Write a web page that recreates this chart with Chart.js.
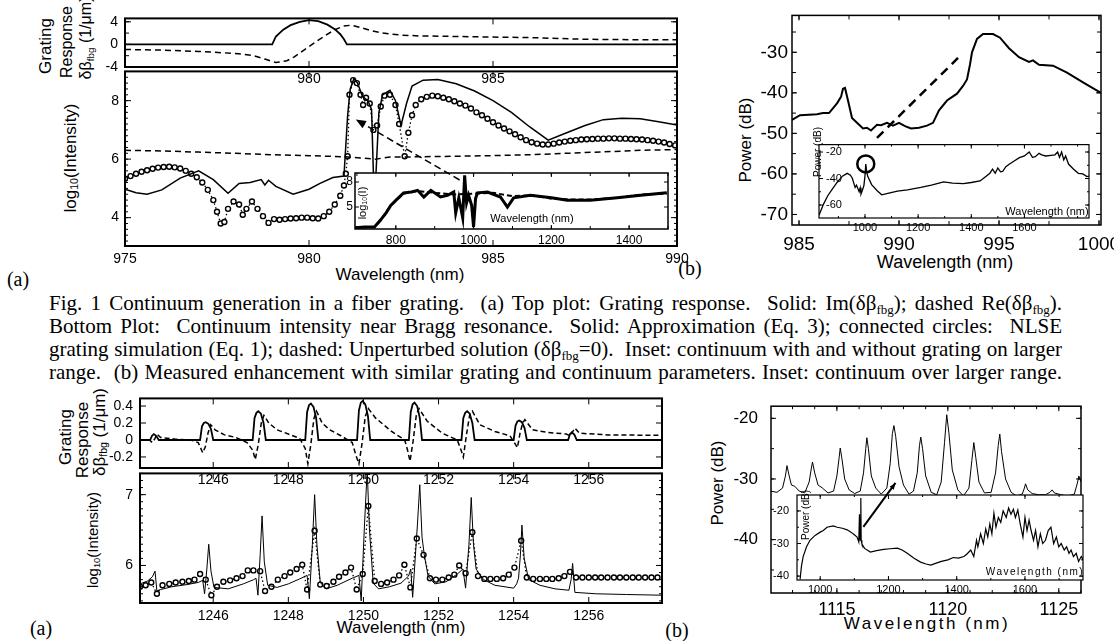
<!DOCTYPE html>
<html>
<head>
<meta charset="utf-8">
<script src="https://cdn.jsdelivr.net/npm/chart.js@4.4.1/dist/chart.umd.min.js"></script>
<style>
  body { margin: 0; background: #fff; }
  #page { position: relative; width: 1114px; height: 641px; overflow: hidden; background: #fff;
          font-family: 'Liberation Sans', Arial, sans-serif; color: #000; }
  canvas { position: absolute; }
  .t { position: absolute; white-space: nowrap; line-height: 1; transform: translate(-50%, -50%); }
  .r { transform: translate(-50%, -50%) rotate(-90deg); }
  .serif { font-family: 'Liberation Serif', 'Times New Roman', serif; }
  .cap { position: absolute; left: 49px; white-space: pre; line-height: 1; font-size: 21px;
         font-family: 'Liberation Serif', 'Times New Roman', serif; transform-origin: 0 0; }
  sub { font-size: 0.62em; vertical-align: -0.28em; line-height: 0; }
</style>
</head>
<body>
<div id="page">
  <!-- top-left axis titles -->
  <div class="t r" style="left:45px;top:46px;font-size:17px">Grating</div>
  <div class="t r" style="left:67px;top:42px;font-size:16px">Response</div>
  <div class="t r" style="left:86px;top:38px;font-size:16px">δβ<sub>fbg</sub> (1/μm)</div>
  <div class="t r" style="left:70px;top:158px;font-size:17px">log<sub>10</sub>(Intensity)</div>
  <div class="t" style="left:400px;top:274px;font-size:17px">Wavelength (nm)</div>
  <div class="t serif" style="left:18px;top:279px;font-size:20px">(a)</div>

  <!-- top-right axis titles -->
  <div class="t r" style="left:745px;top:140px;font-size:17px">Power (dB)</div>
  <div class="t" style="left:945px;top:262px;font-size:18px">Wavelength (nm)</div>
  <div class="t serif" style="left:690px;top:268px;font-size:20px">(b)</div>

  <!-- caption -->
  <div class="cap" style="top:293px">Fig. 1 Continuum generation in a fiber grating.  (a) Top plot: Grating response.  Solid: Im(δβ<sub>fbg</sub>); dashed Re(δβ<sub>fbg</sub>).</div>
  <div class="cap" style="top:316px">Bottom Plot:  Continuum intensity near Bragg resonance.  Solid: Approximation (Eq. 3); connected circles:  NLSE</div>
  <div class="cap" style="top:339px">grating simulation (Eq. 1); dashed: Unperturbed solution (δβ<sub>fbg</sub>=0).  Inset: continuum with and without grating on larger</div>
  <div class="cap" style="top:362px">range.  (b) Measured enhancement with similar grating and continuum parameters. Inset: continuum over larger range.</div>

  <!-- bottom-left axis titles -->
  <div class="t r" style="left:65px;top:437px;font-size:17px">Grating</div>
  <div class="t r" style="left:82px;top:440px;font-size:17px">Response</div>
  <div class="t r" style="left:99px;top:432px;font-size:17px">δβ<sub>fbg</sub> (1/μm)</div>
  <div class="t r" style="left:92px;top:540px;font-size:15px">log<sub>10</sub>(Intensity)</div>
  <div class="t" style="left:401px;top:627px;font-size:17px">Wavelength (nm)</div>
  <div class="t serif" style="left:41px;top:628px;font-size:20px">(a)</div>
  <div class="t serif" style="left:677px;top:630px;font-size:20px">(b)</div>

  <!-- bottom-right axis titles -->
  <div class="t r" style="left:717px;top:483px;font-size:17px">Power (dB)</div>
  <div class="t" style="left:927px;top:623px;font-size:17px;letter-spacing:2.5px">Wavelength (nm)</div>
</div>

<script>
// ---- top-left (a): grating response and intensity near 980 nm ----
const tlImPts = [[975,0],[979.0,0],[979.1,1.4],[979.3,2.6],[979.5,3.4],[979.75,4.0],[980.0,4.3],[980.25,4.1],
  [980.5,3.5],[980.7,2.7],[980.85,1.8],[980.95,0.9],[981.03,0],[990,0]];
const tlRePts = [[975,-0.9],[976,-1.0],[977,-1.25],[978,-1.6],[978.5,-2.0],[978.8,-2.6],[979.1,-3.2],[979.4,-2.9],
  [979.6,-2.2],[979.95,-0.6],[980.2,0.5],[980.45,1.6],[980.7,2.6],[980.95,3.25],[981.15,3.4],[981.4,3.0],
  [981.7,2.4],[982.0,2.0],[982.5,1.65],[983,1.5],[984,1.4],[985,1.3],[986,1.2],[986.8,1.05],[987.5,0.9],
  [988.5,0.85],[990,0.8]];
const tlApproxPts = [[975,4.97],[975.3,4.85],[975.6,4.8],[976.0,4.95],[976.5,5.35],[977.0,5.6],[977.4,5.3],
  [977.8,4.83],[978.1,5.17],[978.4,5.2],[978.7,5.3],[978.8,5.12],[978.9,5.28],[979.1,5.07],[979.57,4.8],
  [980.0,4.97],[980.3,5.17],[980.65,5.37],[980.95,5.42],[981.05,7.5],[981.12,8.4],[981.22,8.75],[981.32,8.6],
  [981.45,8.15],[981.6,8.0],[981.7,7.7],[981.75,5.5],[981.78,4.0],[981.82,5.5],[981.9,7.6],[982.0,8.2],
  [982.2,8.35],[982.35,8.0],[982.5,7.15],[982.65,7.9],[982.8,8.5],[983.1,8.7],[983.5,8.72],[984.0,8.58],
  [984.5,8.33],[985.0,8.0],[985.5,7.6],[986.0,7.1],[986.5,6.65],[986.9,6.85],[987.5,7.15],[988.0,7.35],
  [988.5,7.4],[989.0,7.38],[989.5,7.28],[990,7.17]];
const tlNlsePts = [[975.0,5.33],[975.15,5.42],[975.3,5.5],[975.45,5.57],[975.6,5.62],[975.75,5.67],[975.9,5.71],
  [976.05,5.73],[976.2,5.74],[976.35,5.72],[976.5,5.68],[976.65,5.6],[976.8,5.5],[976.95,5.38],[977.1,5.2],
  [977.25,4.95],[977.4,4.6],[977.5,4.2],[977.6,3.8],[977.7,3.85],[977.8,4.3],[977.95,4.55],[978.1,4.45],
  [978.2,4.1],[978.3,4.3],[978.45,4.55],[978.6,4.3],[978.75,4.05],[978.9,3.82],[979.05,3.95],[979.2,3.93],
  [979.35,3.95],[979.5,3.97],[979.65,3.98],[979.8,4.0],[979.95,4.0],[980.1,3.98],[980.25,3.97],[980.4,4.05],
  [980.55,4.2],[980.7,4.45],[980.85,4.75],[980.95,5.1],[981.0,5.5],[981.05,6.1],[981.1,8.2],[981.2,8.7],
  [981.3,8.6],[981.4,8.2],[981.47,7.85],[981.55,8.1],[981.65,7.9],[981.75,7.0],[981.85,7.15],[981.95,7.8],
  [982.05,8.17],[982.2,8.2],[982.35,7.85],[982.45,7.2],[982.6,6.1],[982.7,6.9],[982.8,7.5],[982.9,7.85],
  [983.05,8.05],[983.2,8.13],[983.35,8.17],[983.5,8.15],[983.65,8.1],[983.8,8.05],[983.95,7.98],[984.1,7.9],
  [984.25,7.83],[984.4,7.73],[984.55,7.6],[984.7,7.5],[984.85,7.38],[985.0,7.26],[985.15,7.15],[985.3,7.05],
  [985.45,6.95],[985.6,6.85],[985.75,6.75],[985.9,6.65],[986.05,6.58],[986.2,6.53],[986.35,6.5],[986.5,6.5],
  [986.65,6.53],[986.8,6.57],[986.95,6.6],[987.1,6.63],[987.25,6.65],[987.4,6.67],[987.55,6.68],[987.7,6.69],
  [987.85,6.7],[988.0,6.7],[988.15,6.71],[988.3,6.71],[988.45,6.7],[988.6,6.7],[988.75,6.69],[988.9,6.68],
  [989.05,6.67],[989.2,6.65],[989.35,6.63],[989.5,6.6],[989.65,6.57],[989.8,6.52],[989.95,6.47]];
const tlFreePts = [[975,6.3],[976,6.28],[977,6.24],[978,6.2],[979,6.15],[980,6.12],[981,6.08],[981.5,6.03],
  [981.8,6.0],[982.2,6.07],[983,6.08],[984,6.1],[985,6.12],[986,6.15],[987,6.2],[988,6.25],[989,6.3],[990,6.33]];
const tlInsetPts = [[695,2.5],[720,2.6],[745,2.6],[760,3.4],[775,4.3],[787,5.2],[800,5.8],[820,6.7],[840,6.8],
  [856,7.0],[872,6.2],[890,7.0],[915,6.2],[933,6.4],[949,6.8],[954,4.3],[962,6.1],[972,3.7],[977,8.8],[982,5.5],
  [987,6.4],[995,5.2],[1000,2.6],[1005,6.0],[1010,6.7],[1036,6.8],[1069,6.2],[1087,5.0],[1103,6.1],[1146,6.4],
  [1200,6.1],[1241,5.8],[1300,5.8],[1369,6.1],[1430,6.4],[1497,6.7]];
const tlInsetDashPts = [[695,2.5],[745,2.6],[760,3.3],[787,5.2],[820,6.6],[856,6.9],[900,6.7],[950,6.5],
  [1000,6.6],[1050,6.7],[1100,6.3],[1150,6.4],[1200,6.0],[1250,5.9],[1300,5.9],[1369,6.1],[1430,6.5],[1497,6.6]];
const tlArrowPts = [[964,8.24],[697,15.5]];   // in inset units, points back to the main plot

const tlXTicks = [975, 980, 985, 990];
const tlUpperXLabels = [980, 985];
const tlUpperYTicks = [-4, 0, 4];
const tlLowerYTicks = [4, 6, 8];
const tlInsetXTicks = [800, 1000, 1200, 1400];
const tlInsetYTicks = [5, 8];

// ---- top-right (b): measured spectrum ----
const trPts = [[984.65,-46.7],[985.05,-45.5],[985.5,-45.4],[985.9,-45.3],[986.2,-45.0],[986.5,-45.0],[986.9,-42.6],
  [987.1,-41.0],[987.2,-39.0],[987.3,-38.8],[987.45,-41.9],[987.65,-46.2],[987.9,-47.4],[988.2,-48.8],[988.4,-48.6],
  [988.6,-49.3],[988.9,-47.9],[989.1,-48.0],[989.4,-47.4],[989.7,-48.1],[990.0,-47.4],[990.3,-48.2],[990.6,-48.8],
  [991.0,-48.6],[991.4,-48.1],[991.7,-47.4],[992.0,-44.3],[992.4,-41.9],[992.9,-40.2],[993.2,-38.3],[993.4,-36.7],
  [993.55,-33.0],[993.65,-30.0],[993.9,-26.7],[994.2,-25.5],[994.7,-25.5],[995.05,-26.4],[995.5,-29.0],
  [996.0,-31.2],[996.5,-32.4],[996.7,-32.0],[997.0,-33.1],[997.7,-33.3],[998.4,-35.0],[999.2,-37.4],[1000.1,-40.0]];
const trArrowPts = [[988.9,-51.1],[992.95,-31.4]];
const trInsetPts = [[827,-67.7],[844,-59.3],[860,-53],[877,-48],[895,-43],[915,-38.2],[933,-36.1],[945,-37.5],
  [952,-39.6],[963,-46.7],[968,-45],[974,-48],[978,-50],[982,-47],[985,-51.6],[990,-49],[996,-45.3],[1000,-38],
  [1003,-29.1],[1006,-34],[1010,-38.2],[1025,-44.6],[1045,-49],[1063,-52.3],[1090,-51],[1122,-49.5],[1160,-48.5],
  [1210,-46.7],[1250,-45],[1296,-42.5],[1330,-43.5],[1370,-43.9],[1400,-43],[1433,-41.8],[1445,-40],[1456,-38.2],
  [1470,-36],[1480,-33],[1490,-36],[1500,-32],[1510,-35],[1518,-34.7],[1530,-31],[1544,-29.1],[1560,-27],
  [1581,-24.2],[1600,-23],[1618,-20],[1630,-24],[1641,-23.5],[1655,-21],[1665,-22.1],[1680,-23],[1700,-22.5],
  [1715,-22.1],[1725,-20],[1732,-24],[1740,-20],[1748,-26],[1755,-23],[1766,-29.1],[1785,-33],[1803,-36.1],
  [1820,-36.5],[1835,-38.5],[1844,-38.2]];
const trCirclePts = [[1003,-29]];
const trXTicks = [985, 990, 995, 1000];
const trYTicks = [-70, -60, -50, -40, -30];
const trInsetXTicks = [1000, 1200, 1400, 1600];
const trInsetYTicks = [-60, -40, -20];

// ---- bottom-left (a): grating response and intensity near 1250 nm ----
const blImPts = [[1244.05,0],[1244.32,0],[1244.37,0.05],[1244.42,0.07],[1244.48,0.05],[1244.55,0],
  [1245.65,0],[1245.7,0.16],[1245.75,0.2],[1245.8,0.21],[1245.87,0.19],[1245.94,0.13],[1246.0,0],
  [1247.05,0],[1247.1,0.26],[1247.15,0.32],[1247.2,0.34],[1247.27,0.31],[1247.34,0.2],[1247.4,0],
  [1248.45,0],[1248.5,0.33],[1248.55,0.41],[1248.6,0.43],[1248.67,0.39],[1248.74,0.26],[1248.8,0],
  [1249.83,0],[1249.88,0.35],[1249.93,0.44],[1249.98,0.46],[1250.05,0.42],[1250.12,0.28],[1250.18,0],
  [1251.21,0],[1251.26,0.33],[1251.31,0.42],[1251.36,0.44],[1251.43,0.4],[1251.5,0.26],[1251.56,0],
  [1252.61,0],[1252.66,0.26],[1252.71,0.32],[1252.76,0.34],[1252.83,0.31],[1252.9,0.2],[1252.96,0],
  [1254.0,0],[1254.05,0.17],[1254.1,0.22],[1254.15,0.23],[1254.22,0.21],[1254.29,0.14],[1254.35,0],
  [1255.45,0],[1255.5,0.07],[1255.55,0.09],[1255.62,0.06],[1255.68,0],[1257.95,0]];
const blRePts = [[1244.05,0],[1244.3,0],[1244.38,-0.03],[1244.45,0.02],[1244.5,0.07],[1244.6,0.03],[1245.0,0.01],
  [1245.4,0.0],[1245.6,-0.03],[1245.72,-0.15],[1245.79,-0.08],[1245.86,0.08],[1245.93,0.18],[1246.05,0.12],
  [1246.3,0.06],[1246.6,0.03],[1246.9,-0.03],[1247.05,-0.12],[1247.12,-0.23],[1247.2,-0.05],[1247.28,0.2],
  [1247.35,0.29],[1247.48,0.2],[1247.7,0.12],[1248.0,0.07],[1248.3,0.02],[1248.45,-0.1],[1248.52,-0.28],
  [1248.6,-0.05],[1248.68,0.25],[1248.75,0.34],[1248.9,0.2],[1249.1,0.12],[1249.4,0.05],[1249.7,-0.03],
  [1249.8,-0.18],[1249.88,-0.28],[1249.96,-0.05],[1250.05,0.28],[1250.13,0.37],[1250.32,0.26],[1250.75,0.1],
  [1251.1,0.0],[1251.18,-0.13],[1251.24,-0.25],[1251.32,-0.02],[1251.41,0.3],[1251.48,0.37],[1251.7,0.22],
  [1252.1,0.08],[1252.5,0.0],[1252.6,-0.12],[1252.66,-0.2],[1252.74,0.05],[1252.83,0.3],[1252.9,0.34],
  [1253.1,0.18],[1253.5,0.1],[1253.9,0.05],[1254.02,-0.03],[1254.1,-0.09],[1254.17,0.08],[1254.24,0.2],
  [1254.3,0.24],[1254.5,0.12],[1254.9,0.09],[1255.4,0.07],[1255.5,0.05],[1255.56,0.09],[1255.63,0.14],
  [1255.75,0.08],[1256.5,0.06],[1257.95,0.055]];
const blApproxPts = [[1244.05,5.74],[1244.25,5.78],[1244.38,5.84],[1244.45,5.92],[1244.5,5.64],[1244.6,5.66],
  [1244.9,5.7],[1245.3,5.73],[1245.6,5.76],[1245.72,5.79],[1245.77,5.6],[1245.83,5.95],[1245.88,6.3],
  [1245.94,5.92],[1246.02,5.69],[1246.4,5.67],[1246.8,5.74],[1247.08,5.8],[1247.14,5.82],[1247.19,5.58],
  [1247.25,6.15],[1247.3,6.7],[1247.36,6.05],[1247.45,5.72],[1247.7,5.69],[1248.0,5.74],[1248.3,5.81],
  [1248.5,5.86],[1248.56,5.53],[1248.64,6.3],[1248.7,7.0],[1248.76,6.3],[1248.85,5.76],[1249.0,5.67],
  [1249.3,5.72],[1249.7,5.82],[1249.88,5.86],[1249.94,5.5],[1250.03,6.6],[1250.1,7.35],[1250.16,6.5],
  [1250.26,5.75],[1250.4,5.67],[1250.7,5.7],[1251.0,5.75],[1251.2,5.85],[1251.26,5.95],[1251.31,5.55],
  [1251.44,6.6],[1251.5,7.14],[1251.56,6.4],[1251.62,6.15],[1251.72,5.85],[1251.9,5.74],[1252.2,5.77],
  [1252.5,5.88],[1252.65,5.95],[1252.72,5.68],[1252.81,6.3],[1252.87,6.96],[1252.93,6.3],[1253.0,5.95],
  [1253.2,5.8],[1253.5,5.72],[1254.0,5.68],[1254.08,5.74],[1254.13,5.82],[1254.18,6.15],[1254.22,6.57],
  [1254.28,6.1],[1254.4,5.8],[1254.7,5.72],[1255.1,5.67],[1255.47,5.65],[1255.53,5.8],[1255.57,6.03],
  [1255.63,5.62],[1256.2,5.6],[1257,5.59],[1257.95,5.58]];
const blNlsePts = [[1244.05,5.7],[1244.2,5.72],[1244.35,5.76],[1244.5,5.6],[1244.65,5.72],[1244.83,5.74],
  [1245.0,5.76],[1245.18,5.77],[1245.35,5.78],[1245.5,5.8],[1245.65,5.88],[1245.8,5.8],[1245.95,5.58],
  [1246.1,5.7],[1246.27,5.77],[1246.45,5.79],[1246.62,5.82],[1246.78,5.85],[1246.92,5.93],[1247.07,5.93],
  [1247.25,5.92],[1247.38,5.64],[1247.55,5.7],[1247.72,5.8],[1247.9,5.85],[1248.05,5.9],[1248.22,5.95],
  [1248.37,6.01],[1248.5,5.66],[1248.7,6.49],[1248.85,5.73],[1249.02,5.71],[1249.2,5.77],[1249.35,5.84],
  [1249.52,5.9],[1249.67,5.97],[1249.82,5.66],[1249.98,5.88],[1250.13,6.84],[1250.3,5.78],[1250.47,5.74],
  [1250.63,5.76],[1250.8,5.8],[1250.95,5.86],[1251.09,6.01],[1251.25,5.69],[1251.42,6.38],[1251.6,6.15],
  [1251.77,5.82],[1251.93,5.8],[1252.1,5.8],[1252.27,5.83],[1252.42,5.87],[1252.55,6.0],[1252.72,5.89],
  [1252.9,6.47],[1253.05,5.85],[1253.22,5.81],[1253.38,5.81],[1253.55,5.81],[1253.72,5.82],[1253.87,5.87],
  [1254.02,5.97],[1254.2,6.35],[1254.35,5.83],[1254.52,5.81],[1254.7,5.81],[1254.87,5.81],[1255.03,5.81],
  [1255.2,5.82],[1255.35,5.85],[1255.5,5.91],[1255.66,5.83],[1255.83,5.83],[1256.0,5.83],[1256.17,5.83],
  [1256.33,5.83],[1256.5,5.83],[1256.67,5.83],[1256.83,5.83],[1257.0,5.83],[1257.17,5.83],[1257.33,5.83],
  [1257.5,5.83],[1257.67,5.83],[1257.83,5.83]];
const blXTicks = [1246, 1248, 1250, 1252, 1254, 1256];
const blUpperYTicks = [-0.2, 0, 0.2, 0.4];
const blLowerYTicks = [6, 7];

// ---- bottom-right (b): measured spectrum near 1120 nm ----
const brPts = [[1112.0,-32.0],[1112.3,-32.2],[1112.55,-31.5],[1112.68,-29.5],[1112.75,-27.8],[1112.85,-29.5],
  [1112.95,-31.0],[1113.1,-31.2],[1113.3,-32.0],[1113.55,-32.3],[1113.75,-30.5],[1113.85,-28.2],[1113.9,-27.2],
  [1114.0,-29.0],[1114.15,-31.0],[1114.35,-31.5],[1114.6,-32.3],[1114.85,-32.0],[1115.0,-29.5],[1115.1,-26.5],
  [1115.15,-24.9],[1115.22,-26.5],[1115.35,-30.0],[1115.55,-31.8],[1115.8,-32.4],[1116.05,-32.0],[1116.2,-29.0],
  [1116.3,-25.0],[1116.35,-23.2],[1116.42,-25.0],[1116.55,-29.5],[1116.75,-31.5],[1117.0,-32.5],[1117.25,-31.5],
  [1117.4,-27.5],[1117.5,-22.5],[1117.57,-21.2],[1117.65,-23.0],[1117.8,-28.0],[1118.0,-31.0],[1118.25,-32.5],
  [1118.45,-32.0],[1118.62,-29.0],[1118.72,-24.5],[1118.78,-23.1],[1118.86,-25.0],[1119.0,-29.5],[1119.25,-32.2],
  [1119.5,-32.6],[1119.7,-30.5],[1119.85,-24.0],[1119.95,-19.4],[1120.05,-22.5],[1120.2,-28.5],[1120.45,-31.8],
  [1120.7,-32.8],[1120.95,-31.5],[1121.08,-27.0],[1121.17,-24.0],[1121.26,-26.5],[1121.4,-30.5],[1121.65,-32.3],
  [1121.95,-32.2],[1122.15,-29.0],[1122.27,-24.5],[1122.34,-22.6],[1122.42,-25.5],[1122.6,-30.0],[1122.85,-32.2],
  [1123.1,-32.8],[1123.35,-32.5],[1123.45,-31.5],[1123.5,-30.8],[1123.6,-31.8],[1123.8,-32.4],[1124.1,-32.6],
  [1124.4,-32.6],[1124.6,-32.2],[1124.7,-31.8],[1124.8,-32.3],[1125.1,-32.6],[1125.4,-32.8],[1125.7,-32.5],
  [1125.85,-30.5],[1125.9,-29.5],[1126.0,-30.5]];
const brInsetPts = [[941,-41],[945,-37],[950,-34],[960,-31],[970,-29],[985,-27.5],[1000,-26.5],[1009,-26],
  [1020,-25],[1038,-24.6],[1050,-25],[1065,-25.3],[1079,-25.8],[1090,-26.5],[1100,-27.3],[1108,-28],[1113,-29.5],
  [1115,-21],[1117,-29],[1119,-16],[1120,-29],[1122,-30],[1124,-30.5],[1130,-31.5],[1147,-32.6],[1165,-32.2],
  [1186,-31.8],[1205,-31.6],[1226,-31.4],[1240,-32],[1255,-33],[1275,-34.5],[1294,-35.7],[1310,-36.3],
  [1324,-36.6],[1340,-36],[1355,-35.5],[1374,-35],[1390,-34.3],[1405,-34.5],[1421,-34],[1430,-33.2],[1441,-32],
  [1450,-34],[1458,-29],[1462,-31],[1470,-27],[1478,-30],[1485,-25.5],[1491,-28],[1497,-24],[1503,-27],
  [1509,-20.7],[1515,-25],[1522,-22],[1529,-23.5],[1536,-20],[1545,-22],[1552,-19.1],[1559,-21],[1566,-19.5],
  [1572,-22],[1579,-19.7],[1586,-24],[1594,-28],[1600,-22],[1606,-26],[1612,-22.8],[1618,-26],[1625,-29],
  [1631,-26],[1638,-31],[1645,-27],[1652,-30],[1660,-29],[1668,-26],[1676,-25],[1684,-30],[1692,-28],
  [1699,-31],[1706,-30],[1715,-32],[1722,-31],[1729,-33],[1735,-32],[1742,-34],[1750,-33],[1757,-35.5],
  [1765,-34],[1770,-35]];
const brArrowPts = [[1126.5,-24.9],[1220.6,-11.4]];   // in inset units
const brXTicks = [1115, 1120, 1125];
const brYTicks = [-40, -30, -20];
const brInsetXTicks = [1000, 1200, 1400, 1600];
const brInsetYTicks = [-40, -30, -20];

// ---------------------------------------------------------------
Chart.defaults.font.family = "'Liberation Sans', Arial, sans-serif";
Chart.defaults.color = '#000';

const pts = arr => arr.map(p => ({ x: p[0], y: p[1] }));

// frame with inward major/minor ticks on all four sides
function frame(cfg) {
  return {
    id: 'frame',
    afterDraw(chart) {
      const { ctx, chartArea: a } = chart;
      const xs = chart.scales.x, ys = chart.scales.y;
      const steps = (min, max, st) => {
        const r = [];
        if (!st) return r;
        for (let v = Math.ceil(min / st - 1e-9) * st; v <= max + 1e-9; v += st) r.push(v);
        return r;
      };
      ctx.save();
      ctx.strokeStyle = '#000';
      ctx.lineWidth = cfg.tw || 1;
      ctx.beginPath();
      const mark = (vals, len, isX) => vals.forEach(v => {
        if (isX) {
          const p = xs.getPixelForValue(v);
          if (p < a.left - 0.5 || p > a.right + 0.5) return;
          ctx.moveTo(p, a.bottom); ctx.lineTo(p, a.bottom - len);
          ctx.moveTo(p, a.top); ctx.lineTo(p, a.top + len);
        } else {
          const p = ys.getPixelForValue(v);
          if (p < a.top - 0.5 || p > a.bottom + 0.5) return;
          ctx.moveTo(a.left, p); ctx.lineTo(a.left + len, p);
          ctx.moveTo(a.right, p); ctx.lineTo(a.right - len, p);
        }
      });
      mark(cfg.xMaj || [], cfg.len || 5, true);
      mark(cfg.yMaj || [], cfg.len || 5, false);
      mark(steps(xs.min, xs.max, cfg.xMin), cfg.minLen || 3, true);
      mark(steps(ys.min, ys.max, cfg.yMin), cfg.minLen || 3, false);
      ctx.stroke();
      ctx.lineWidth = cfg.lw || 1.5;
      ctx.strokeRect(a.left, a.top, a.right - a.left, a.bottom - a.top);
      ctx.restore();
    }
  };
}

const whiteArea = {
  id: 'whiteArea',
  beforeDraw(chart) {
    const { ctx, chartArea: a } = chart;
    ctx.save();
    ctx.fillStyle = '#fff';
    ctx.fillRect(a.left, a.top, a.right - a.left, a.bottom - a.top);
    ctx.restore();
  }
};

const arrowHeads = {
  id: 'arrowHeads',
  afterDatasetsDraw(chart) {
    const ctx = chart.ctx;
    chart.data.datasets.forEach((ds, i) => {
      if (!ds.arrowHead) return;
      const el = chart.getDatasetMeta(i).data;
      const a = el[el.length - 2], b = el[el.length - 1];
      const ang = Math.atan2(b.y - a.y, b.x - a.x), L = ds.arrowHead;
      ctx.save();
      ctx.fillStyle = '#000';
      ctx.beginPath();
      ctx.moveTo(b.x, b.y);
      ctx.lineTo(b.x - L * Math.cos(ang - 0.38), b.y - L * Math.sin(ang - 0.38));
      ctx.lineTo(b.x - L * Math.cos(ang + 0.38), b.y - L * Math.sin(ang + 0.38));
      ctx.closePath();
      ctx.fill();
      ctx.restore();
    });
  }
};

function line(data, width, dash, extra) {
  return Object.assign({ data: pts(data), borderColor: '#000', borderWidth: width, borderDash: dash || [],
    pointRadius: 0, fill: false, tension: 0 }, extra || {});
}
function circles(data) {
  return { data: pts(data), borderColor: '#000', borderWidth: 1.3, borderDash: [1.5, 2.5], tension: 0, fill: false,
    pointRadius: 2.5, pointBorderWidth: 1.4, pointBackgroundColor: '#fff', pointBorderColor: '#000' };
}

// box: plot-area left/top/width/height and margins around it for the labels
function panel(box, o) {
  const c = document.createElement('canvas');
  const W = box.w + box.ml + box.mr, H = box.h + box.mt + box.mb;
  c.width = W; c.height = H;
  Object.assign(c.style, { left: (box.l - box.ml) + 'px', top: (box.t - box.mt) + 'px', width: W + 'px', height: H + 'px' });
  document.getElementById('page').appendChild(c);
  const plugins = [frame(o.frame), arrowHeads];
  if (o.white) plugins.unshift(whiteArea);
  return new Chart(c, {
    type: 'line',
    data: { datasets: o.datasets },
    options: {
      responsive: false, animation: false, devicePixelRatio: 1,
      layout: { padding: { left: 0, top: box.mt, right: box.mr, bottom: 0 } },
      plugins: { legend: { display: false }, tooltip: { enabled: false } },
      scales: {
        x: {
          type: 'linear', min: o.x.min, max: o.x.max,
          grid: { display: false, drawTicks: false }, border: { display: false },
          afterFit: s => { s.height = box.mb; },
          afterBuildTicks: s => { s.ticks = o.x.labels.map(v => ({ value: v })); },
          ticks: { display: o.x.labels.length > 0, font: { size: o.x.size }, padding: o.x.pad,
                   maxRotation: 0, autoSkip: false, callback: v => String(v) }
        },
        y: {
          type: 'linear', min: o.y.min, max: o.y.max,
          grid: { display: false, drawTicks: false }, border: { display: false },
          afterFit: s => { s.width = box.ml; },
          afterBuildTicks: s => { s.ticks = o.y.labels.map(v => ({ value: v })); },
          ticks: { font: { size: o.y.size }, padding: o.y.pad, mirror: !!o.y.mirror,
                   autoSkip: false, callback: v => String(v) }
        }
      }
    },
    plugins
  });
}

// top-left lower, upper, inset
panel({ l: 125, t: 67, w: 552, h: 179, ml: 40, mt: 10, mr: 25, mb: 22 }, {
  datasets: [line(tlFreePts, 1.5, [6, 4]), line(tlApproxPts, 1.5), circles(tlNlsePts)],
  x: { min: 975, max: 990, labels: tlXTicks, size: 14, pad: 5 },
  y: { min: 3.03, max: 9, labels: tlLowerYTicks, size: 14, pad: 6 },
  frame: { xMaj: tlXTicks, yMaj: tlLowerYTicks, yMin: 0.2, lw: 2, len: 6, minLen: 3 }
});
panel({ l: 125, t: 11, w: 552, h: 56, ml: 40, mt: 8, mr: 25, mb: 22 }, {
  datasets: [line(tlRePts, 1.5, [6, 4]), line(tlImPts, 1.8)],
  x: { min: 975, max: 990, labels: tlUpperXLabels, size: 14, pad: 4 },
  y: { min: -4, max: 4.6, labels: tlUpperYTicks, size: 14, pad: 7 },
  frame: { xMaj: tlXTicks, yMaj: tlUpperYTicks, yMin: 2, lw: 2, len: 6, minLen: 4 }
});
panel({ l: 355, t: 173, w: 313, h: 56, ml: 20, mt: 60, mr: 20, mb: 18 }, {
  white: true,
  datasets: [line(tlInsetDashPts, 2, [5, 3]), line(tlInsetPts, 3),
             line(tlArrowPts, 1.5, [7, 4], { clip: false, arrowHead: 11 })],
  x: { min: 695, max: 1500, labels: tlInsetXTicks, size: 12, pad: 4 },
  y: { min: 2.36, max: 9.08, labels: tlInsetYTicks, size: 12, pad: 2 },
  frame: { xMaj: tlInsetXTicks, xMin: 100, yMaj: tlInsetYTicks, lw: 1.5, len: 4, minLen: 3 }
});

// top-right main and inset
panel({ l: 792, t: 9, w: 309, h: 216, ml: 50, mt: 9, mr: 40, mb: 30 }, {
  datasets: [line(trPts, 2), line(trArrowPts, 2.5, [9, 6])],
  x: { min: 984.65, max: 1000.1, labels: trXTicks, size: 19, pad: 8 },
  y: { min: -72.6, max: -20.9, labels: trYTicks, size: 19, pad: 4 },
  frame: { xMaj: trXTicks, xMin: 2.5, yMaj: trYTicks, yMin: 5, lw: 1.5, len: 5, minLen: 4 }
});
panel({ l: 813, t: 139, w: 276, h: 79, ml: 5, mt: 8, mr: 30, mb: 16 }, {
  white: true,
  datasets: [line(trInsetPts, 1.3),
             { data: pts(trCirclePts), showLine: false, pointRadius: 8.5, pointBorderWidth: 2.5,
               pointBackgroundColor: 'rgba(0,0,0,0)', pointBorderColor: '#000' }],
  x: { min: 827, max: 1843, labels: trInsetXTicks, size: 11, pad: 3 },
  y: { min: -69.8, max: -14.4, labels: trInsetYTicks, size: 11, pad: 7, mirror: true },
  frame: { xMaj: trInsetXTicks, xMin: 100, yMaj: trInsetYTicks, yMin: 10, lw: 1.2, len: 4, minLen: 2 }
});

// bottom-left lower, upper
panel({ l: 140, t: 468, w: 522, h: 135, ml: 35, mt: 10, mr: 25, mb: 22 }, {
  datasets: [line(blApproxPts, 1), circles(blNlsePts)],
  x: { min: 1244.05, max: 1257.95, labels: blXTicks, size: 14, pad: 5 },
  y: { min: 5.47, max: 7.3, labels: blLowerYTicks, size: 14, pad: 7 },
  frame: { xMaj: blXTicks, yMaj: blLowerYTicks, yMin: 0.1, lw: 2, len: 6, minLen: 3 }
});
panel({ l: 140, t: 393, w: 522, h: 75, ml: 35, mt: 10, mr: 25, mb: 20 }, {
  datasets: [line(blRePts, 1.5, [5, 3]), line(blImPts, 1.8)],
  x: { min: 1244.05, max: 1257.95, labels: blXTicks, size: 14, pad: 4 },
  y: { min: -0.33, max: 0.49, labels: blUpperYTicks, size: 14, pad: 7 },
  frame: { xMaj: blXTicks, yMaj: blUpperYTicks, lw: 2, len: 6, minLen: 3 }
});

// bottom-right main and inset
panel({ l: 771, t: 393, w: 310, h: 200, ml: 45, mt: 10, mr: 30, mb: 25 }, {
  datasets: [line(brPts, 1)],
  x: { min: 1112.03, max: 1126, labels: brXTicks, size: 18, pad: 6 },
  y: { min: -48.8, max: -18, labels: brYTicks, size: 17, pad: 13 },
  frame: { xMaj: brXTicks, xMin: 1, yMaj: brYTicks, yMin: 5, lw: 1.5, len: 5, minLen: 3 }
});
panel({ l: 797, t: 495, w: 286, h: 85, ml: 30, mt: 20, mr: 20, mb: 16 }, {
  white: true,
  datasets: [line(brInsetPts, 1.2), line(brArrowPts, 2, [], { clip: false, arrowHead: 7 })],
  x: { min: 932, max: 1770, labels: brInsetXTicks, size: 11, pad: 3 },
  y: { min: -41.2, max: -15.1, labels: brInsetYTicks, size: 11, pad: 8 },
  frame: { xMaj: brInsetXTicks, xMin: 100, yMaj: brInsetYTicks, yMin: 5, lw: 1.2, len: 4, minLen: 2 }
});

// inset titles go on top of the canvases
const page = document.getElementById('page');
[
  ['t r', 362, 203, 11, 'log<sub>10</sub>(I)', ''],
  ['t', 532, 218, 11, 'Wavelength (nm)', ''],
  ['t r', 818, 152, 10, 'Power (dB)', ''],
  ['t', 1047, 211, 11, 'Wavelength (nm)', ''],
  ['t r', 806, 515, 10, 'Power (dB)', ''],
  ['t', 1035, 572, 10, 'Wavelength (nm)', 'letter-spacing:1.5px']
].forEach(([cls, x, y, fs, html, st]) => {
  const d = document.createElement('div');
  d.className = cls;
  d.style.cssText = `left:${x}px;top:${y}px;font-size:${fs}px;${st}`;
  d.innerHTML = html;
  page.appendChild(d);
});

// caption lines are justified to the full text width
document.querySelectorAll('.cap').forEach(el => {
  const target = 1013;
  const w = el.getBoundingClientRect().width;
  if (w > target) {
    el.style.transform = `scaleX(${target / w})`;
  } else {
    const n = (el.textContent.match(/ /g) || []).length;
    el.style.wordSpacing = ((target - w) / n) + 'px';
  }
});
</script>
</body>
</html>
